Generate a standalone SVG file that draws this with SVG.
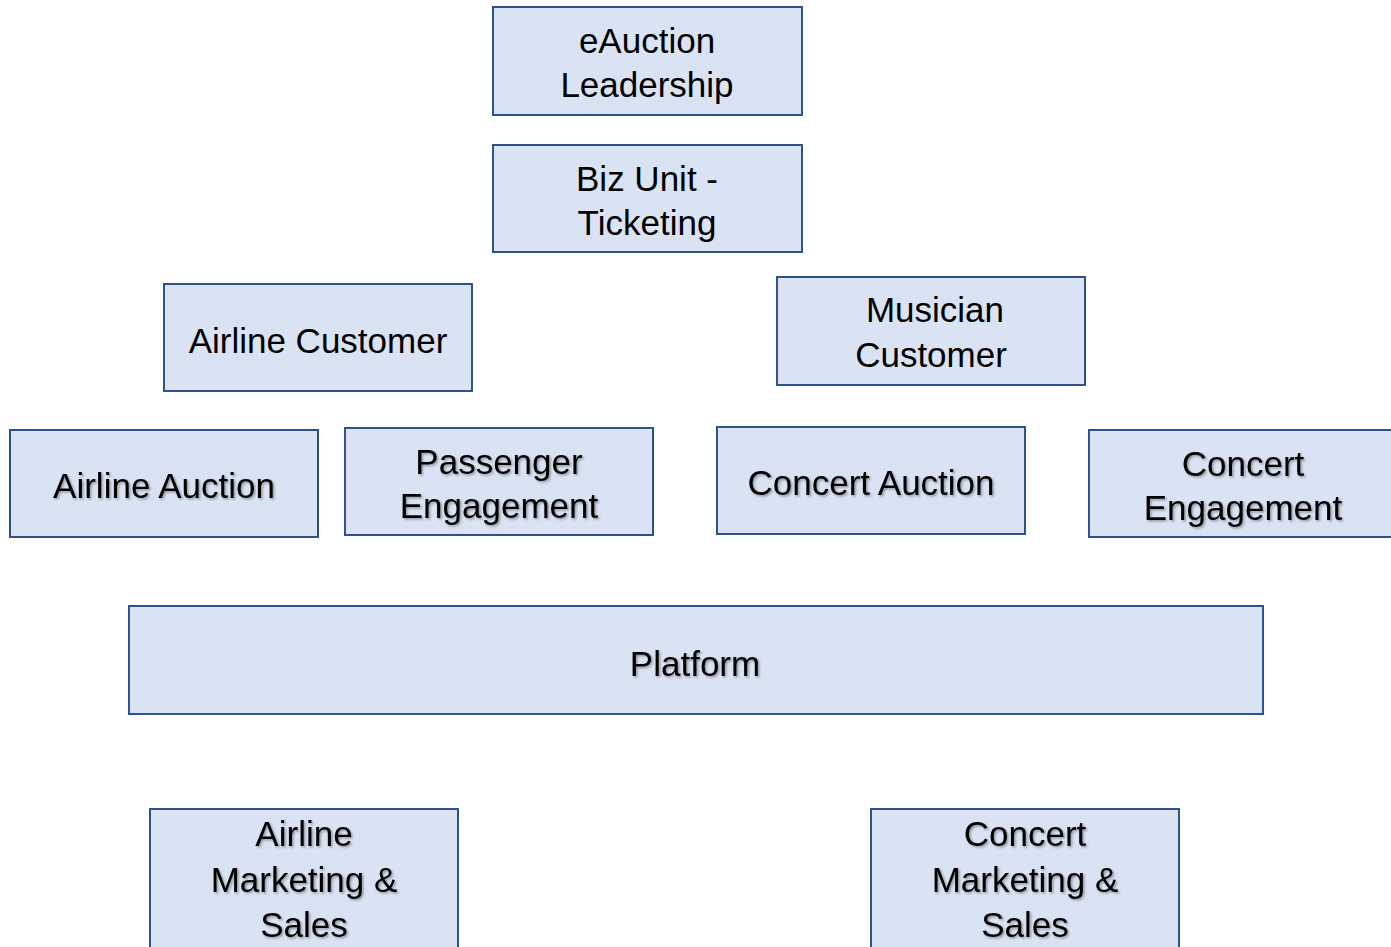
<svg xmlns="http://www.w3.org/2000/svg" width="1391" height="947" viewBox="0 0 1391 947">
<defs>
<style>
.box{fill:#DAE3F3;stroke:#2F528F;stroke-width:2}
.t{font-family:"Liberation Sans",Arial,sans-serif;font-size:35px;fill:#000;text-anchor:middle}
.sh{filter:url(#shadow)}
</style>
<filter id="shadow" x="-10%" y="-30%" width="120%" height="160%">
<feDropShadow dx="1.5" dy="1.5" stdDeviation="1" flood-color="#000" flood-opacity="0.35"/>
</filter>
</defs>
<rect width="1391" height="947" fill="#fff"/>
<g id="connectors"/>
<g id="eauction-leadership">
<rect class="box" x="493" y="7" width="309" height="108"/>
<text class="t" x="647" y="53">eAuction</text>
<text class="t" x="647" y="97">Leadership</text>
</g>
<g id="biz-unit-ticketing">
<rect class="box" x="493" y="145" width="309" height="107"/>
<text class="t" x="647" y="191">Biz Unit -</text>
<text class="t" x="647" y="235">Ticketing</text>
</g>
<g id="airline-customer">
<rect class="box" x="164" y="284" width="308" height="107"/>
<text class="t" x="318" y="353">Airline Customer</text>
</g>
<g id="musician-customer">
<rect class="box" x="777" y="277" width="308" height="108"/>
<text class="t" x="935" y="322">Musician</text>
<text class="t" x="931" y="367">Customer</text>
</g>
<g id="airline-auction">
<rect class="box" x="10" y="430" width="308" height="107"/>
<text class="t sh" x="164" y="498">Airline Auction</text>
</g>
<g id="passenger-engagement">
<rect class="box" x="345" y="428" width="308" height="107"/>
<text class="t sh" x="499" y="474">Passenger</text>
<text class="t sh" x="499" y="518">Engagement</text>
</g>
<g id="concert-auction">
<rect class="box" x="717" y="427" width="308" height="107"/>
<text class="t sh" x="871" y="495">Concert Auction</text>
</g>
<g id="concert-engagement">
<rect class="box" x="1089" y="430" width="308" height="107"/>
<text class="t sh" x="1243" y="476">Concert</text>
<text class="t sh" x="1243" y="520">Engagement</text>
</g>
<g id="platform">
<rect class="box" x="129" y="606" width="1134" height="108"/>
<text class="t sh" x="695" y="676">Platform</text>
</g>
<g id="airline-marketing-sales">
<rect class="box" x="150" y="809" width="308" height="150"/>
<text class="t sh" x="304" y="846">Airline</text>
<text class="t sh" x="304" y="892">Marketing &amp;</text>
<text class="t sh" x="304" y="937">Sales</text>
</g>
<g id="concert-marketing-sales">
<rect class="box" x="871" y="809" width="308" height="150"/>
<text class="t sh" x="1025" y="846">Concert</text>
<text class="t sh" x="1025" y="892">Marketing &amp;</text>
<text class="t sh" x="1025" y="937">Sales</text>
</g>
</svg>
